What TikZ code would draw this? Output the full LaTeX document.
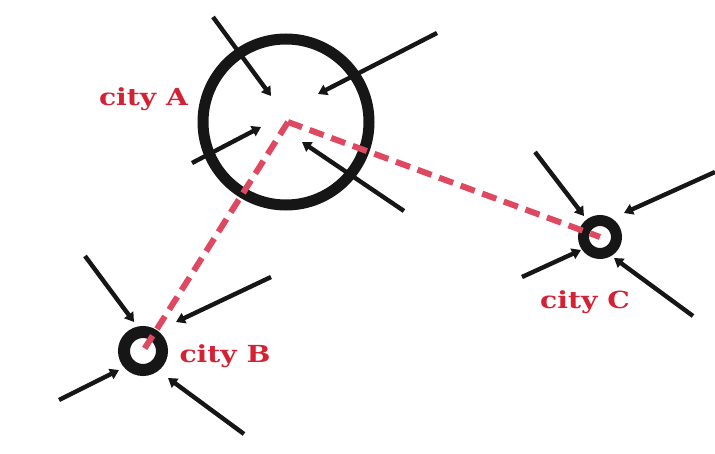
\documentclass[tikz,border=0pt]{standalone}
\usepackage{fontspec}
\usepackage{graphicx}
\newfontfamily\labelfont{DejaVu Serif}
\usetikzlibrary{arrows.meta}
\definecolor{labelred}{RGB}{212,34,52}
\definecolor{routered}{RGB}{222,72,96}
\definecolor{ink}{RGB}{22,22,22}
\tikzset{
  ring/.style={circle,draw=ink,inner sep=0pt},
  flow/.style={draw=ink,line width=4.4pt,-{Triangle[length=9pt,width=11pt]}},
  route/.style={draw=routered,line width=6pt,dash pattern=on 15pt off 8pt},
  citylabel/.style={text=labelred,font=\labelfont\bfseries\fontsize{23.5}{26}\selectfont,inner sep=0pt}
}
\begin{document}
\begin{tikzpicture}[x=1pt,y=-1pt]
\useasboundingbox (0,0) rectangle (715,454);
% city A
\node[ring,line width=11pt,minimum size=166pt] (A) at (286,122) {};
\coordinate (A0) at (288,122);
\coordinate (a1s) at (213,17);  \coordinate (a1e) at (271,96);
\coordinate (a2s) at (437,33);  \coordinate (a2e) at (318,94);
\coordinate (a3s) at (192,163); \coordinate (a3e) at (261,127);
\coordinate (a4s) at (404,211); \coordinate (a4e) at (302,142);
\draw[flow] (a1s) -- (a1e);
\draw[flow] (a2s) -- (a2e);
\draw[flow] (a3s) -- (a3e);
\draw[flow] (a4s) -- (a4e);
% city B
\node[ring,line width=12pt,minimum size=38pt] (B) at (143,351) {};
\coordinate (b1s) at (85,256);  \coordinate (b1e) at (134,322);
\coordinate (b2s) at (271,277); \coordinate (b2e) at (176,322);
\coordinate (b3s) at (59,400);  \coordinate (b3e) at (119,370);
\coordinate (b4s) at (244,434); \coordinate (b4e) at (168,378);
\draw[flow] (b1s) -- (b1e);
\draw[flow] (b2s) -- (b2e);
\draw[flow] (b3s) -- (b3e);
\draw[flow] (b4s) -- (b4e);
% city C
\node[ring,line width=11pt,minimum size=33pt] (C) at (600,237) {};
\coordinate (c1s) at (535,152); \coordinate (c1e) at (584,216);
\coordinate (c2s) at (715,172); \coordinate (c2e) at (624,213);
\coordinate (c3s) at (522,277); \coordinate (c3e) at (581,250);
\coordinate (c4s) at (693,316); \coordinate (c4e) at (614,258);
\draw[flow] (c1s) -- (c1e);
\draw[flow] (c2s) -- (c2e);
\draw[flow] (c3s) -- (c3e);
\draw[flow] (c4s) -- (c4e);
% routes
\draw[route] (A0) -- (B.center);
\draw[route] (A0) -- (C.center);
% labels
\node[citylabel] (LA) at (143.5,99) {\scalebox{1.2}[1]{city A}};
\node[citylabel] (LB) at (225,356) {\scalebox{1.2}[1]{city B}};
\node[citylabel] (LC) at (585,302) {\scalebox{1.2}[1]{city C}};
\end{tikzpicture}
\end{document}
